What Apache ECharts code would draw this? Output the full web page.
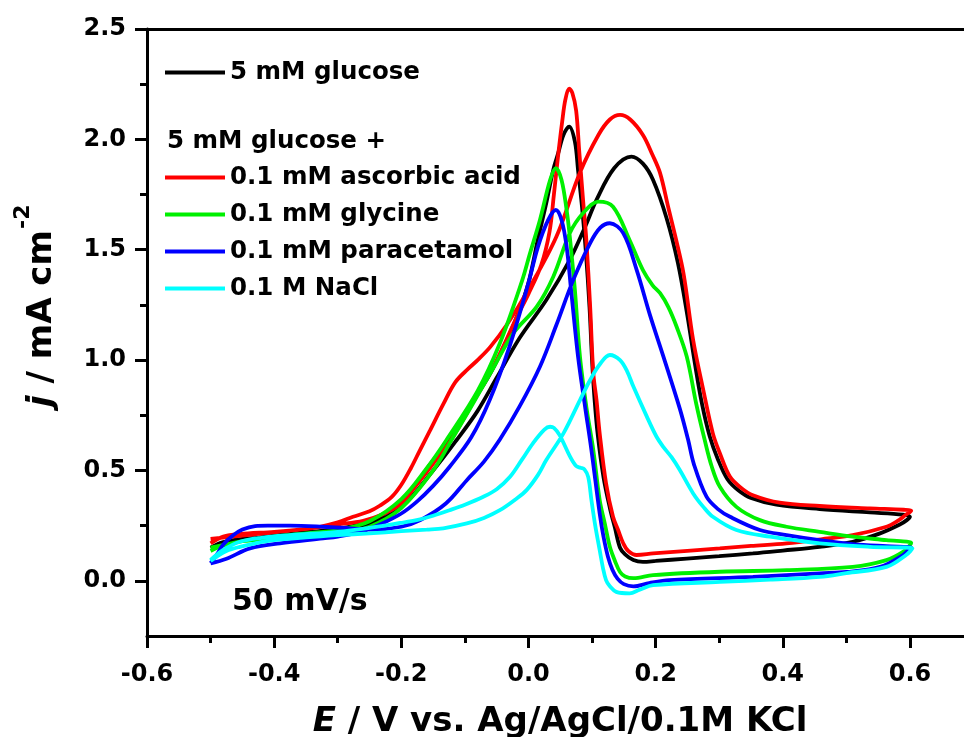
<!DOCTYPE html>
<html><head><meta charset="utf-8">
<script src="https://cdn.jsdelivr.net/npm/echarts@6/dist/echarts.min.js"></script>
<style>html,body{margin:0;padding:0;background:#fff}#c{width:964px;height:737px}</style>
</head><body><div id="c"></div>
<script>
const FONT = 'DejaVu Sans';
const xMajorTicks = [-0.6, -0.4, -0.2, 0, 0.2, 0.4, 0.6];
const xMinorTicks = [-0.5, -0.3, -0.1, 0.1, 0.3, 0.5];
const yMajorTicks = [0, 0.5, 1.0, 1.5, 2.0, 2.5];
const yMinorTicks = [0.25, 0.75, 1.25, 1.75, 2.25];
const seriesNames = ['5 mM glucose', '0.1 mM ascorbic acid', '0.1 mM glycine', '0.1 mM paracetamol', '0.1 M NaCl'];
const seriesColors = ['#000000', '#ff0000', '#00f000', '#0000ff', '#00ffff'];

// [E (V), j (mA cm-2)] : forward scan -0.5 -> 0.6, then reverse 0.6 -> -0.5
const glucose = [
 [-0.5,0.15],[-0.48,0.175],[-0.45,0.19],[-0.4,0.2],[-0.35,0.21],[-0.3,0.225],[-0.25,0.255],[-0.2,0.335],[-0.15,0.5],[-0.113,0.638],[-0.08,0.77],[-0.05,0.92],[-0.014,1.1],[0.028,1.272],[0.065,1.454],[0.09,1.61],[0.107,1.726],[0.135,1.87],[0.162,1.922],[0.18,1.89],[0.196,1.816],[0.217,1.645],[0.235,1.44],[0.25,1.2],[0.262,0.98],[0.273,0.8],[0.285,0.655],[0.298,0.55],[0.313,0.46],[0.33,0.41],[0.35,0.375],[0.39,0.345],[0.458,0.325],[0.537,0.31],[0.589,0.3],[0.6,0.29],
 [0.595,0.275],[0.584,0.255],[0.553,0.215],[0.51,0.177],[0.458,0.154],[0.4,0.137],[0.353,0.124],[0.3,0.112],[0.249,0.101],[0.2,0.09],[0.18,0.086],[0.165,0.094],[0.152,0.12],[0.144,0.15],[0.136,0.24],[0.128,0.33],[0.118,0.47],[0.109,0.66],[0.104,0.82],[0.1,1.0],[0.096,1.24],[0.09,1.5],[0.084,1.7],[0.078,1.86],[0.073,1.99],[0.064,2.058],[0.055,2.02],[0.047,1.94],[0.039,1.862],[0.028,1.711],[0.015,1.55],[0.0,1.35],[-0.015,1.22],[-0.034,1.09],[-0.06,0.94],[-0.09,0.8],[-0.126,0.638],[-0.15,0.545],[-0.2,0.36],[-0.25,0.27],[-0.3,0.235],[-0.35,0.22],[-0.4,0.205],[-0.45,0.185],[-0.5,0.15]
];
const ascorbic = [
 [-0.5,0.17],[-0.48,0.2],[-0.454,0.212],[-0.4,0.222],[-0.35,0.235],[-0.328,0.245],[-0.3,0.265],[-0.276,0.29],[-0.25,0.315],[-0.234,0.34],[-0.215,0.38],[-0.2,0.435],[-0.185,0.51],[-0.171,0.59],[-0.155,0.68],[-0.134,0.8],[-0.115,0.9],[-0.095,0.96],[-0.08,1.0],[-0.06,1.06],[-0.034,1.16],[0,1.32],[0.044,1.56],[0.081,1.85],[0.11,2.02],[0.128,2.09],[0.144,2.111],[0.16,2.09],[0.18,2.02],[0.195,1.93],[0.207,1.847],[0.22,1.69],[0.231,1.56],[0.244,1.39],[0.259,1.091],[0.275,0.864],[0.29,0.668],[0.301,0.578],[0.317,0.471],[0.335,0.42],[0.353,0.388],[0.395,0.354],[0.458,0.339],[0.537,0.328],[0.59,0.322],[0.602,0.318],
 [0.594,0.3],[0.58,0.27],[0.563,0.245],[0.51,0.207],[0.46,0.188],[0.406,0.17],[0.35,0.158],[0.301,0.147],[0.25,0.136],[0.196,0.124],[0.17,0.117],[0.157,0.135],[0.149,0.17],[0.141,0.23],[0.133,0.29],[0.122,0.442],[0.112,0.668],[0.107,0.819],[0.102,0.94],[0.097,1.242],[0.091,1.544],[0.086,1.72],[0.08,1.94],[0.075,2.13],[0.069,2.21],[0.064,2.23],[0.058,2.18],[0.053,2.08],[0.047,1.937],[0.04,1.75],[0.033,1.58],[0.02,1.43],[0,1.3],[-0.018,1.197],[-0.05,1.0],[-0.085,0.82],[-0.122,0.638],[-0.15,0.53],[-0.18,0.42],[-0.2,0.35],[-0.23,0.3],[-0.26,0.272],[-0.3,0.255],[-0.35,0.235],[-0.4,0.22],[-0.45,0.205],[-0.5,0.19]
];
const glycine = [
 [-0.5,0.135],[-0.48,0.16],[-0.45,0.18],[-0.4,0.19],[-0.35,0.2],[-0.3,0.215],[-0.25,0.245],[-0.2,0.33],[-0.15,0.5],[-0.121,0.638],[-0.09,0.79],[-0.06,0.94],[-0.024,1.121],[0.013,1.242],[0.039,1.378],[0.065,1.575],[0.086,1.666],[0.11,1.718],[0.133,1.695],[0.159,1.544],[0.18,1.408],[0.195,1.34],[0.207,1.303],[0.22,1.24],[0.233,1.151],[0.249,1.015],[0.264,0.8],[0.277,0.64],[0.288,0.52],[0.301,0.426],[0.327,0.335],[0.364,0.275],[0.406,0.245],[0.458,0.222],[0.51,0.2],[0.563,0.184],[0.602,0.172],
 [0.6,0.162],[0.589,0.131],[0.563,0.094],[0.51,0.063],[0.406,0.048],[0.301,0.041],[0.196,0.026],[0.165,0.012],[0.152,0.02],[0.144,0.04],[0.136,0.09],[0.128,0.154],[0.12,0.26],[0.112,0.366],[0.102,0.592],[0.091,0.789],[0.081,1.015],[0.073,1.318],[0.065,1.559],[0.06,1.68],[0.052,1.816],[0.043,1.87],[0.034,1.816],[0.018,1.635],[0.002,1.48],[-0.01,1.36],[-0.045,1.076],[-0.08,0.86],[-0.129,0.638],[-0.16,0.51],[-0.2,0.37],[-0.25,0.27],[-0.3,0.23],[-0.35,0.215],[-0.4,0.2],[-0.45,0.18],[-0.5,0.15]
];
const paracetamol = [
 [-0.5,0.08],[-0.49,0.12],[-0.48,0.165],[-0.465,0.205],[-0.45,0.232],[-0.43,0.248],[-0.41,0.25],[-0.375,0.25],[-0.323,0.245],[-0.28,0.238],[-0.244,0.232],[-0.2,0.245],[-0.17,0.275],[-0.13,0.35],[-0.097,0.456],[-0.07,0.54],[-0.045,0.64],[-0.014,0.79],[0.018,0.97],[0.044,1.16],[0.07,1.36],[0.097,1.53],[0.113,1.6],[0.128,1.62],[0.149,1.575],[0.17,1.41],[0.191,1.205],[0.214,1.0],[0.238,0.78],[0.251,0.64],[0.26,0.53],[0.28,0.381],[0.298,0.325],[0.317,0.29],[0.364,0.23],[0.406,0.207],[0.458,0.184],[0.51,0.166],[0.563,0.157],[0.602,0.152],
 [0.6,0.147],[0.589,0.117],[0.553,0.063],[0.5,0.04],[0.458,0.034],[0.353,0.018],[0.222,0.003],[0.19,-0.01],[0.165,-0.025],[0.15,-0.015],[0.14,0.01],[0.132,0.05],[0.125,0.109],[0.118,0.2],[0.112,0.305],[0.099,0.592],[0.089,0.789],[0.078,1.015],[0.067,1.318],[0.06,1.514],[0.052,1.635],[0.043,1.68],[0.031,1.635],[0.015,1.514],[0,1.35],[-0.03,1.06],[-0.061,0.819],[-0.09,0.65],[-0.124,0.517],[-0.15,0.43],[-0.175,0.36],[-0.2,0.305],[-0.23,0.26],[-0.26,0.225],[-0.3,0.2],[-0.323,0.192],[-0.391,0.17],[-0.438,0.147],[-0.475,0.1],[-0.5,0.079]
];
const nacl = [
 [-0.5,0.09],[-0.49,0.11],[-0.475,0.135],[-0.454,0.154],[-0.43,0.17],[-0.401,0.184],[-0.35,0.197],[-0.3,0.207],[-0.25,0.215],[-0.2,0.225],[-0.16,0.232],[-0.134,0.238],[-0.097,0.26],[-0.07,0.285],[-0.045,0.32],[-0.02,0.37],[-0.003,0.411],[0.015,0.48],[0.028,0.547],[0.055,0.668],[0.081,0.819],[0.097,0.91],[0.112,0.98],[0.128,1.023],[0.144,1.0],[0.155,0.95],[0.165,0.88],[0.186,0.745],[0.201,0.655],[0.212,0.607],[0.225,0.56],[0.238,0.502],[0.259,0.396],[0.275,0.335],[0.29,0.29],[0.327,0.23],[0.38,0.2],[0.458,0.17],[0.537,0.154],[0.604,0.147],
 [0.594,0.117],[0.563,0.063],[0.5,0.035],[0.458,0.018],[0.38,0.005],[0.301,-0.005],[0.196,-0.02],[0.175,-0.04],[0.159,-0.057],[0.138,-0.05],[0.128,-0.025],[0.122,0.003],[0.117,0.06],[0.112,0.139],[0.105,0.25],[0.099,0.366],[0.094,0.47],[0.088,0.505],[0.082,0.512],[0.075,0.52],[0.065,0.565],[0.049,0.66],[0.04,0.693],[0.034,0.698],[0.025,0.685],[0.007,0.623],[-0.01,0.55],[-0.029,0.471],[-0.05,0.415],[-0.071,0.381],[-0.1,0.345],[-0.124,0.32],[-0.15,0.295],[-0.176,0.275],[-0.202,0.262],[-0.25,0.24],[-0.3,0.222],[-0.375,0.207],[-0.42,0.195],[-0.454,0.177],[-0.48,0.14],[-0.5,0.095]
];
const seriesData = [glucose, ascorbic, glycine, paracetamol, nacl];

const X_MIN = -0.6, X_MAX = 0.685, Y_MIN = -0.25, Y_MAX = 2.5;
const chart = echarts.init(document.getElementById('c'), null, {renderer: 'canvas'});
const labelStyle = {fontFamily: FONT, fontWeight: 'bold', fontSize: 24, color: '#000'};
const black3 = {color: '#000', width: 3};
const fmt = v => Number(v).toFixed(1);
const legendText = {fontFamily: FONT, fontWeight: 'bold', fontSize: 24.5, color: '#000', lineHeight: 37};

const option = {
  animation: false,
  backgroundColor: '#ffffff',
  grid: {left: 147, top: 29, right: 0, bottom: 101, containLabel: false},
  xAxis: [
    {type: 'value', min: X_MIN, max: X_MAX, position: 'bottom',
     axisLine: {show: true, onZero: false, lineStyle: black3},
     axisTick: {show: true, inside: false, length: 12, lineStyle: black3, customValues: xMajorTicks},
     axisLabel: Object.assign({show: true, margin: 27, customValues: xMajorTicks, formatter: fmt}, labelStyle),
     splitLine: {show: false}},
    {type: 'value', min: X_MIN, max: X_MAX, position: 'bottom',
     axisLine: {show: false, onZero: false},
     axisTick: {show: true, inside: false, length: 7, lineStyle: black3, customValues: xMinorTicks},
     axisLabel: {show: false}, splitLine: {show: false}},
    {type: 'value', min: X_MIN, max: X_MAX, position: 'top',
     axisLine: {show: true, onZero: false, lineStyle: black3},
     axisTick: {show: false}, axisLabel: {show: false}, splitLine: {show: false}}
  ],
  yAxis: [
    {type: 'value', min: Y_MIN, max: Y_MAX, position: 'left',
     axisLine: {show: true, onZero: false, lineStyle: black3},
     axisTick: {show: true, inside: false, length: 12, lineStyle: black3, customValues: yMajorTicks},
     axisLabel: Object.assign({show: true, margin: 21, customValues: yMajorTicks, formatter: fmt}, labelStyle),
     splitLine: {show: false}},
    {type: 'value', min: Y_MIN, max: Y_MAX, position: 'left',
     axisLine: {show: false, onZero: false},
     axisTick: {show: true, inside: false, length: 7, lineStyle: black3, customValues: yMinorTicks},
     axisLabel: {show: false}, splitLine: {show: false}}
  ],
  legend: [
    {data: [seriesNames[0]], left: 165, top: 54, orient: 'vertical', padding: 0, itemGap: 0,
     icon: 'rect', itemWidth: 60, itemHeight: 4, selectedMode: false,
     itemStyle: {borderWidth: 0}, textStyle: legendText},
    {data: seriesNames.slice(1), left: 165, top: 159, orient: 'vertical', padding: 0, itemGap: 0,
     icon: 'rect', itemWidth: 60, itemHeight: 4, selectedMode: false,
     itemStyle: {borderWidth: 0}, textStyle: legendText}
  ],
  series: seriesNames.map((n, i) => ({
    name: n, type: 'line', xAxisIndex: 0, yAxisIndex: 0,
    data: seriesData[i], symbol: 'none', showSymbol: false, smooth: 0.35,
    lineStyle: {color: seriesColors[i], width: 3.8},
    itemStyle: {color: seriesColors[i]},
    emphasis: {disabled: true}, z: 2 + i
  })),
  graphic: [
    {type: 'text', x: 167, y: 142, style: {text: '5 mM glucose +', fontFamily: FONT, fontWeight: 'bold', fontSize: 24.5, fill: '#000', align: 'left', verticalAlign: 'middle'}},
    {type: 'text', x: 232, y: 602, style: {text: '50 mV/s', fontFamily: FONT, fontWeight: 'bold', fontSize: 30, fill: '#000', align: 'left', verticalAlign: 'middle'}},
    {type: 'text', x: 560, y: 722, style: {text: '{i|E} / V vs. Ag/AgCl/0.1M KCl', fontFamily: FONT, fontWeight: 'bold', fontSize: 34, fill: '#000', align: 'center', verticalAlign: 'middle',
      rich: {i: {fontFamily: FONT, fontWeight: 'bold', fontStyle: 'italic', fontSize: 34, fill: '#000'}}}},
    {type: 'text', x: 42, y: 407, rotation: Math.PI / 2, style: {text: '{i|j} / mA cm', fontFamily: FONT, fontWeight: 'bold', fontSize: 34, fill: '#000', align: 'left', verticalAlign: 'middle',
      rich: {i: {fontFamily: FONT, fontWeight: 'bold', fontStyle: 'italic', fontSize: 34, fill: '#000'}}}},
    {type: 'text', x: 23, y: 229, rotation: Math.PI / 2, style: {text: '-2', fontFamily: FONT, fontWeight: 'bold', fontSize: 22, fill: '#000', align: 'left', verticalAlign: 'middle'}}
  ]
};
chart.setOption(option);
</script>
</body></html>
